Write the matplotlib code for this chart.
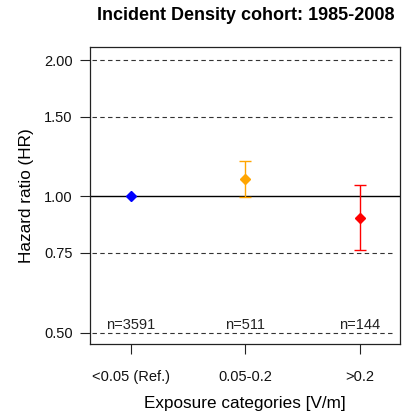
import matplotlib
matplotlib.use("Agg")
import matplotlib.pyplot as plt
import numpy as np

categories = ["<0.05 (Ref.)", "0.05-0.2", ">0.2"]
hr = [1.00, 1.09, 0.897]
ci_low = [1.00, 0.995, 0.76]
ci_high = [1.00, 1.197, 1.059]
counts = ["n=3591", "n=511", "n=144"]
colors = ["#0000ff", "#ffa500", "#ff0000"]
yticks = [0.50, 0.75, 1.00, 1.50, 2.00]
ytick_labels = ["0.50", "0.75", "1.00", "1.50", "2.00"]

plt.rcParams['font.family'] = ['Liberation Sans', 'DejaVu Sans']
W, H = 405, 419
fig = plt.figure(figsize=(W/100, H/100), dpi=100)
ax = fig.add_axes([90/W, 1 - 344/H, (400-90)/W, (344-47)/H])
ax.set_yscale('log')
ax.set_ylim(0.472, 2.137)
ax.set_xlim(0.642, 3.35)

for y in yticks:
    if y == 1.0:
        ax.axhline(y, color='black', lw=1.0, zorder=1)
    else:
        ax.axhline(y, xmin=0.005, xmax=0.985, color='#333333', lw=0.8,
                   ls=(0, (4, 3)), zorder=1)

x = np.arange(1, len(categories) + 1)
for i in range(len(categories)):
    yerr = [[hr[i] - ci_low[i]], [ci_high[i] - hr[i]]]
    if ci_high[i] != ci_low[i]:
        ax.errorbar(x[i], hr[i], yerr=yerr, color=colors[i], lw=1.0,
                    capsize=4.5, capthick=1.0, fmt='none', zorder=2)
    ax.plot(x[i], hr[i], marker='D', ms=5.5, color=colors[i], ls='none', zorder=3)
    ax.text(x[i], 0.502, counts[i], ha='center', va='bottom', fontsize=10.5,
            color='#222222', zorder=4)

ax.set_yticks(yticks)
ax.set_yticklabels(ytick_labels)
ax.yaxis.set_minor_locator(matplotlib.ticker.NullLocator())
ax.set_xticks(x)
ax.set_xticklabels(categories)
ax.tick_params(axis='both', labelsize=10.5, length=7.5, width=0.8, direction='out',
               pad=5, colors='#222222', labelcolor='#111111')
ax.tick_params(axis='x', pad=11)
for s in ax.spines.values():
    s.set_linewidth(0.9)
    s.set_color('#222222')

ax.set_ylabel("Hazard ratio (HR)", fontsize=12.3, labelpad=7)
ax.set_xlabel("Exposure categories [V/m]", fontsize=12.3, labelpad=9)
fig.text(246/W, 1 - 15/H, "Incident Density cohort: 1985-2008", ha='center', va='center',
         fontsize=13, fontweight='bold')

fig.savefig("out.png", dpi=100)
